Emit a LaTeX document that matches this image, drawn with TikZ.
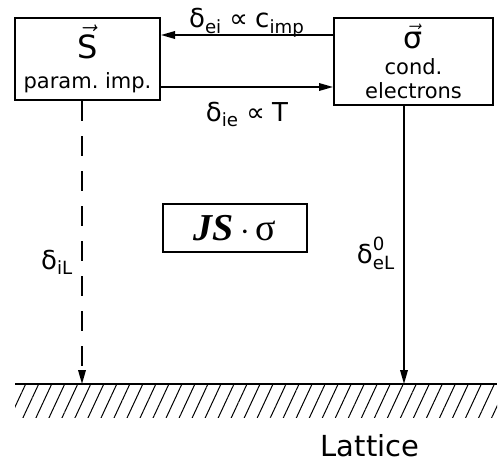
\documentclass[tikz,border=0pt]{standalone}
\usepackage{amsmath,amssymb}
\usepackage{fontspec}
\setmainfont{DejaVu Sans}
\newfontfamily\timesfont{Liberation Serif}
\usepackage{tikz}
\usetikzlibrary{arrows.meta,positioning,calc,patterns.meta}

\begin{document}
\begin{tikzpicture}[x=0.5pt, y=-0.5pt,
    box/.style={draw=black, line width=1pt, align=center, inner sep=2pt},
    arr/.style={-{Triangle[length=7pt, width=3.8pt]}, line width=0.8pt},
    lbl/.style={font=\fontsize{13}{15}\selectfont, inner sep=1pt}
  ]
  \useasboundingbox (0,0) rectangle (499,467);
  \node[box, minimum width=72.5pt, minimum height=41pt] (spin) at (87.5,59)
    {{\fontsize{16}{18}\selectfont $\vec{\text{S}}$}\\[3pt] {\fontsize{10.5}{12}\selectfont param.~imp.}};
  \node[box, minimum width=79.5pt, minimum height=43.5pt] (elec) at (413.5,61.5)
    {{\fontsize{15}{16}\selectfont $\vec{\text{σ}}$}\\[1pt] {\fontsize{10.5}{11}\selectfont cond.}\\ {\fontsize{10.5}{11}\selectfont electrons}};
  \node[box, line width=0.8pt, minimum width=72pt, minimum height=24pt] (ham) at (235,228)
    {\fontsize{19}{22}\selectfont\timesfont {\bfseries\itshape JS}\,$\cdot$\,σ};
  \coordinate (latW) at (15,384);
  \coordinate (latE) at (497,384);
  % relaxation channels
  \draw[arr] ([yshift=13.25pt]elec.west) -- ([yshift=13.25pt]elec.west -| spin.east)
    node[midway, above=-2.5pt, lbl] {$\text{δ}_{\text{ei}}$\;∝\;$\text{c}_{\text{imp}}$};
  \draw[arr] ([yshift=-14pt]spin.east) -- ([yshift=-14pt]spin.east -| elec.west)
    node[midway, below=6pt, lbl] {$\text{δ}_{\text{ie}}$\;∝\;T};
  \draw[arr, dash pattern=on 10pt off 7.5pt] ([xshift=-2.75pt]spin.south) -- ([xshift=-2.75pt]spin.south |- latW)
    node[pos=0.57, left=3pt, lbl] {$\text{δ}_{\text{iL}}$};
  \draw[arr] ([xshift=-4.75pt]elec.south) -- ([xshift=-4.75pt]elec.south |- latW)
    node[pos=0.53, left=3pt, lbl] {$\text{δ}^{\text{0}}_{\text{eL}}$};
  % lattice
  \path[pattern={Lines[angle=65, distance=5.9pt, line width=0.5pt]}] (latW) rectangle ([yshift=-16.5pt]latE);
  \draw[line width=1pt] (latW) -- (latE);
  \node[font=\fontsize{14.5}{17}\selectfont] (lattice) at (370,446) {Lattice};
\end{tikzpicture}
\end{document}
